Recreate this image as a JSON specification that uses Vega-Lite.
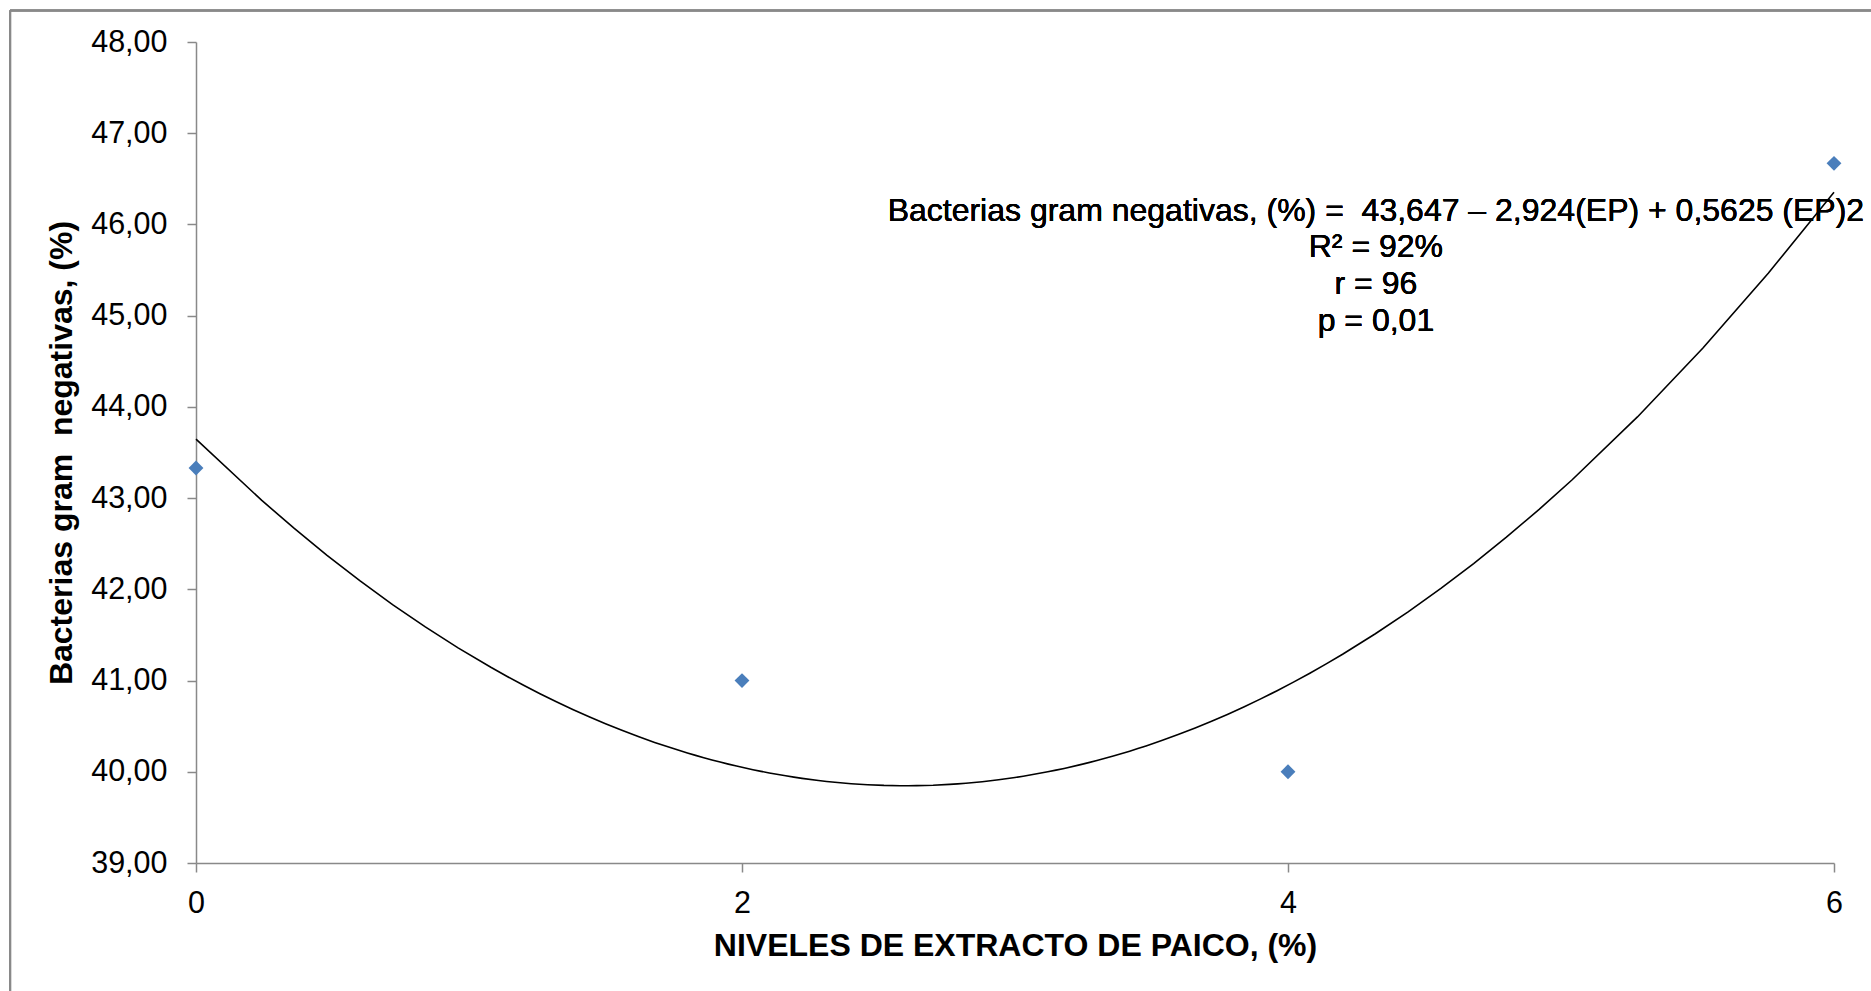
{
  "$schema": "https://vega.github.io/schema/vega-lite/v6.json",
  "width": 1638,
  "height": 821,
  "autosize": {"type": "none"},
  "padding": {"left": 196, "top": 42, "right": 37, "bottom": 128},
  "background": "white",
  "config": {
    "view": {"stroke": null},
    "font": "Liberation Sans",
    "axis": {
      "domainColor": "#898989",
      "domainWidth": 1.5,
      "tickColor": "#898989",
      "tickWidth": 1.5,
      "tickSize": 9,
      "grid": false,
      "labelFont": "Liberation Sans",
      "labelFontSize": 30.5,
      "labelColor": "#000000",
      "labelFlush": false,
      "labelOverlap": false,
      "titleFont": "Liberation Sans",
      "titleFontSize": 32,
      "titleFontWeight": "bold",
      "titleColor": "#000000"
    }
  },
  "data": {
    "values": [
      {"nivel": 0, "bacterias": 43.33},
      {"nivel": 2, "bacterias": 41.0},
      {"nivel": 4, "bacterias": 40.0},
      {"nivel": 6, "bacterias": 46.67}
    ]
  },
  "layer": [
    {
      "mark": {"type": "rule", "color": "#898989", "strokeWidth": 2},
      "encoding": {
        "x": {"datum": -0.681, "type": "quantitative"},
        "y": {"datum": 48.345, "type": "quantitative"},
        "y2": {"datum": 37.5}
      }
    },
    {
      "mark": {"type": "rule", "color": "#898989", "strokeWidth": 2},
      "encoding": {
        "x": {"datum": -0.681, "type": "quantitative"},
        "x2": {"datum": 6.2},
        "y": {"datum": 48.345, "type": "quantitative"}
      }
    },
    {
      "transform": [
        {"regression": "bacterias", "on": "nivel", "method": "poly", "order": 2, "extent": [0, 6]}
      ],
      "mark": {"type": "line", "color": "#000000", "strokeWidth": 1.6, "clip": false},
      "encoding": {
        "x": {"field": "nivel", "type": "quantitative"},
        "y": {"field": "bacterias", "type": "quantitative"}
      }
    },
    {
      "mark": {"type": "point", "shape": "diamond", "filled": true, "color": "#4a7ebb", "size": 220, "opacity": 1},
      "encoding": {
        "x": {
          "field": "nivel",
          "type": "quantitative",
          "scale": {"domain": [0, 6], "nice": false, "zero": false},
          "axis": {
            "values": [0, 2, 4, 6],
            "format": "d",
            "title": "NIVELES DE EXTRACTO DE PAICO, (%)",
            "labelPadding": 16,
            "titlePadding": 12
          }
        },
        "y": {
          "field": "bacterias",
          "type": "quantitative",
          "scale": {"domain": [39, 48], "nice": false, "zero": false},
          "axis": {
            "values": [39, 40, 41, 42, 43, 44, 45, 46, 47, 48],
            "labelExpr": "replace(format(datum.value, '.2f'), '.', ',')",
            "title": "Bacterias gram \u00a0negativas, (%)",
            "labelPadding": 20,
            "titlePadding": 12
          }
        }
      }
    },
    {
      "mark": {
        "type": "text",
        "align": "center",
        "baseline": "alphabetic",
        "fontSize": 32,
        "font": "Liberation Sans",
        "color": "#000000",
        "lineHeight": 36.6,
        "text": [
          "Bacterias gram negativas, (%) = \u00a043,647 – 2,924(EP) + 0,5625 (EP)2",
          "R² = 92%",
          "r = 96",
          "p = 0,01"
        ]
      },
      "encoding": {
        "x": {"datum": 4.322, "type": "quantitative"},
        "y": {"datum": 46.04, "type": "quantitative"}
      }
    }
  ]
}
